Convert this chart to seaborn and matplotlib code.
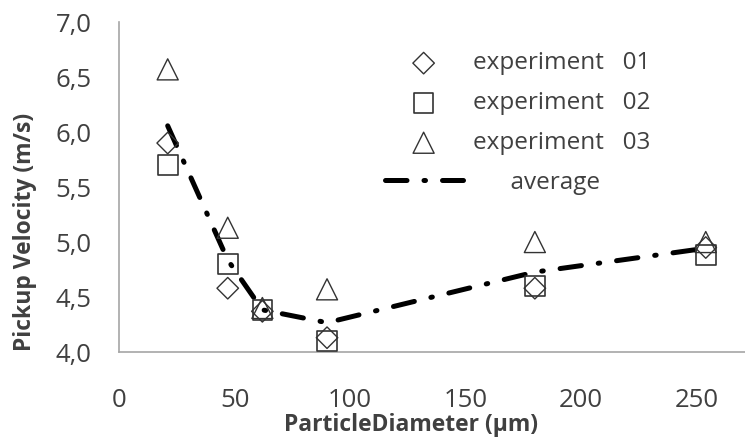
import matplotlib
matplotlib.use("Agg")
import matplotlib.pyplot as plt
import seaborn as sns
import numpy as np
import pandas as pd

diameter = [21, 47, 62, 90, 180, 254]
exp01 = [5.90, 4.58, 4.37, 4.13, 4.58, 4.95]
exp02 = [5.70, 4.80, 4.38, 4.10, 4.60, 4.88]
exp03 = [6.57, 5.13, 4.40, 4.57, 5.00, 5.00]
average = list(np.mean([exp01, exp02, exp03], axis=0))

x_ticks = [0, 50, 100, 150, 200, 250]
y_ticks = [4.0, 4.5, 5.0, 5.5, 6.0, 6.5, 7.0]
y_tick_labels = ["4,0", "4,5", "5,0", "5,5", "6,0", "6,5", "7,0"]

sns.set_theme(style="white")
plt.rcParams["font.family"] = ["Open Sans", "DejaVu Sans"]

fig = plt.figure(figsize=(7.45, 4.37), dpi=100)
ax = fig.add_axes([0.160, 0.1945, 0.84, 0.755])

df = pd.DataFrame({"d": diameter, "e1": exp01, "e2": exp02, "e3": exp03, "avg": average})

edge = "#333333"
sns.scatterplot(data=df, x="d", y="e1", marker="D", s=120, facecolor="none",
                edgecolor=edge, linewidth=1.0, ax=ax, label="experiment   01", zorder=3)
sns.scatterplot(data=df, x="d", y="e2", marker="s", s=200, facecolor="none",
                edgecolor=edge, linewidth=1.2, ax=ax, label="experiment   02", zorder=3)
sns.scatterplot(data=df, x="d", y="e3", marker="^", s=230, facecolor="none",
                edgecolor=edge, linewidth=1.0, ax=ax, label="experiment   03", zorder=3)
sns.lineplot(data=df, x="d", y="avg", color="black", linewidth=3.6,
             linestyle=(0, (4.3, 3.4, 0.3, 3.4)), dash_capstyle="round",
             ax=ax, label="      average", zorder=2)

ax.set_xlim(0, 271)
ax.set_ylim(4.0, 7.0)
ax.set_xticks(x_ticks)
ax.set_xticklabels([str(t) for t in x_ticks])
ax.set_yticks(y_ticks)
ax.set_yticklabels(y_tick_labels)
ax.tick_params(axis="both", length=0, labelsize=18.5, labelcolor="#404040")
ax.tick_params(axis="x", pad=26)
ax.tick_params(axis="y", pad=20)

for s in ["top", "right"]:
    ax.spines[s].set_visible(False)
for s in ["left", "bottom"]:
    ax.spines[s].set_color("#a6a6a6")
    ax.spines[s].set_linewidth(1.2)

ax.set_xlabel("ParticleDiameter (μm)", fontsize=16.5, fontweight="bold", color="#404040",
              va="center")
ax.set_ylabel("Pickup Velocity (m/s)", fontsize=16.5, fontweight="bold", color="#404040",
              va="center")
ax.xaxis.set_label_coords(0.466, -0.221)
ax.yaxis.set_label_coords(-0.150, 0.364)

leg = ax.legend(loc="upper left", bbox_to_anchor=(0.401, 0.955), frameon=False,
                fontsize=17.5, handlelength=3.2, handletextpad=0.45, labelspacing=0.65,
                labelcolor="#404040", borderaxespad=0.2)

fig.savefig("out.png", dpi=100)
